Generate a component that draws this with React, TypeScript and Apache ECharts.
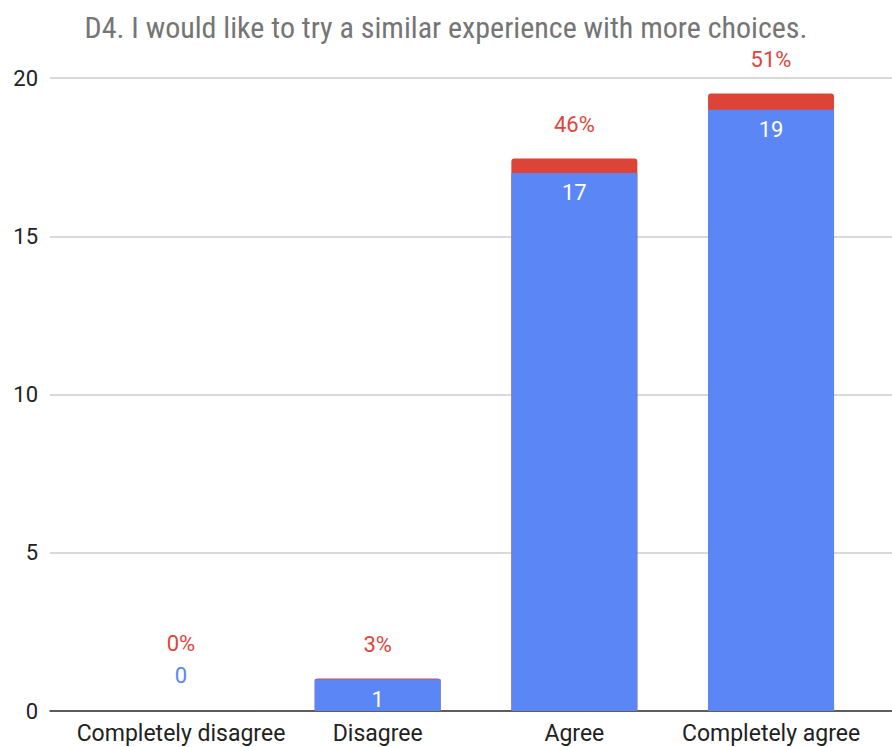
import React, { useEffect, useRef } from "react";
import * as echarts from "echarts";

const categories = ["Completely disagree", "Disagree", "Agree", "Completely agree"];
const counts = [0, 1, 17, 19];
const shares = [0.0, 0.03, 0.46, 0.51];
const shareLabels = ["0%", "3%", "46%", "51%"];
const yTicks = [0, 5, 10, 15, 20];
const titleText = "D4. I would like to try a similar experience with more choices.";

const BLUE = "#5b86f5";
const RED = "#db4437";
const FONT = "Roboto";

export default function App() {
  const ref = useRef<HTMLDivElement>(null);
  useEffect(() => {
    if (!ref.current) return;
    const chart = echarts.init(ref.current, null, { renderer: "svg" });
    const idx = categories.map((_, i) => i);
    chart.setOption({
      animation: false,
      backgroundColor: "#ffffff",
      title: {
        text: titleText,
        left: "center",
        top: 7,
        textStyle: {
          color: "#757575",
          fontSize: 30,
          fontWeight: "normal",
          fontFamily: "'Liberation Sans Narrow', 'Roboto Condensed', Roboto",
        },
      },
      grid: { left: 50, right: 0, top: 78, bottom: 36, containLabel: false },
      xAxis: {
        type: "value",
        min: -0.666,
        max: 3.615,
        splitLine: { show: false },
        axisLine: { show: true, onZero: false, lineStyle: { color: "#333", width: 1.5 } },
        axisTick: { show: false },
        axisLabel: {
          customValues: idx,
          formatter: (v: number) => categories[Math.round(v)] ?? "",
          color: "#222",
          fontSize: 23,
          fontFamily: FONT,
          margin: 11,
        },
      },
      yAxis: {
        type: "value",
        min: 0,
        max: 20,
        interval: 5,
        axisLine: { show: false },
        axisTick: { show: false },
        splitLine: { lineStyle: { color: "#cccccc", width: 1.5 } },
        axisLabel: {
          customValues: yTicks,
          color: "#222",
          fontSize: 22,
          fontFamily: FONT,
          margin: 12,
        },
      },
      series: [
        {
          name: "share",
          type: "bar",
          barWidth: 126,
          barGap: "-100%",
          itemStyle: { color: RED, borderRadius: [3, 3, 0, 0] },
          data: shares.map((s, i) =>
            counts[i] === 0
              ? { value: [i, counts[i] + s], label: { distance: 57 } }
              : { value: [i, counts[i] + s] }
          ),
          label: {
            show: true,
            position: "top",
            distance: 23,
            color: "#e0453a",
            fontSize: 22,
            fontFamily: FONT,
            formatter: (p: any) => shareLabels[p.dataIndex],
          },
        },
        {
          name: "count",
          type: "bar",
          barWidth: 126,
          barGap: "-100%",
          itemStyle: { color: BLUE },
          data: counts.map((c, i) =>
            c === 0
              ? {
                  value: [i, c],
                  label: { position: "top", color: BLUE, distance: 25 },
                }
              : { value: [i, c] }
          ),
          label: {
            show: true,
            position: "insideTop",
            distance: 9,
            color: "#ffffff",
            fontSize: 22,
            fontFamily: FONT,
            formatter: (p: any) => String(p.value[1]),
          },
        },
      ],
    });
    return () => chart.dispose();
  }, []);
  return <div ref={ref} style={{ width: 892, height: 747, position: "absolute", left: 0, top: 0 }} />;
}
